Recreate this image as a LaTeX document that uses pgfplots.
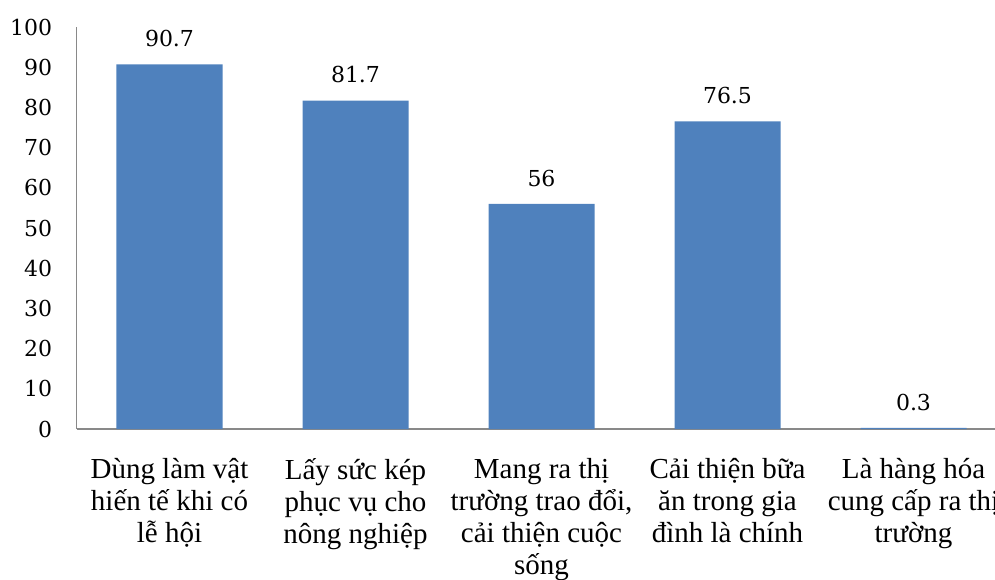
\documentclass[border=0pt]{standalone}
\usepackage{fontspec}
\setmainfont{Liberation Serif}
\newfontfamily\numfont{DejaVu Serif}
\usepackage{pgfplots}
\pgfplotsset{compat=1.18}
\definecolor{barblue}{HTML}{4F81BD}
\definecolor{axisgray}{HTML}{898989}

\begin{document}
\begin{tikzpicture}
\begin{axis}[
  scale only axis,
  width=465pt, height=201pt,
  xmin=-0.5, xmax=4.5,
  ymin=0, ymax=100,
  axis x line=bottom, axis y line=left,
  axis line style={-, draw=axisgray, line width=0.75pt},
  ytick={0,10,...,100},
  xtick=data,
  major tick length=0pt,
  xticklabels={
    {Dùng làm vật\\hiến tế khi có\\lễ hội},
    {Lấy sức kép\\phục vụ cho\\nông nghiệp},
    {Mang ra thị\\trường trao đổi,\\cải thiện cuộc\\sống},
    {Cải thiện bữa\\ăn trong gia\\đình là chính},
    {Là hàng hóa\\cung cấp ra thị\\trường}
  },
  xticklabel style={align=center, anchor=north, inner sep=0pt, yshift=-14.5pt,
    font=\fontsize{14.5}{16}\selectfont},
  yticklabel style={anchor=east, inner sep=0pt, xshift=-12pt,
    font=\numfont\fontsize{11}{13}\selectfont},
  /pgf/number format/assume math mode=true,
  ybar, bar width=53pt, bar shift=0pt,
  nodes near coords,
  every node near coord/.append style={anchor=south, inner sep=0pt, yshift=8.5pt,
    font=\numfont\fontsize{11}{13}\selectfont, text=black},
  clip=false,
]
\addplot[fill=barblue, draw=none] coordinates {
  (0,90.7) (1,81.7) (2,56) (3,76.5) (4,0.3)
};
\coordinate (O) at (rel axis cs:0,0);
\end{axis}
\pgfresetboundingbox
\path[use as bounding box] ([xshift=-38.25pt,yshift=-75pt]O) rectangle ([xshift=459.25pt,yshift=214.5pt]O);
\end{tikzpicture}
\end{document}
